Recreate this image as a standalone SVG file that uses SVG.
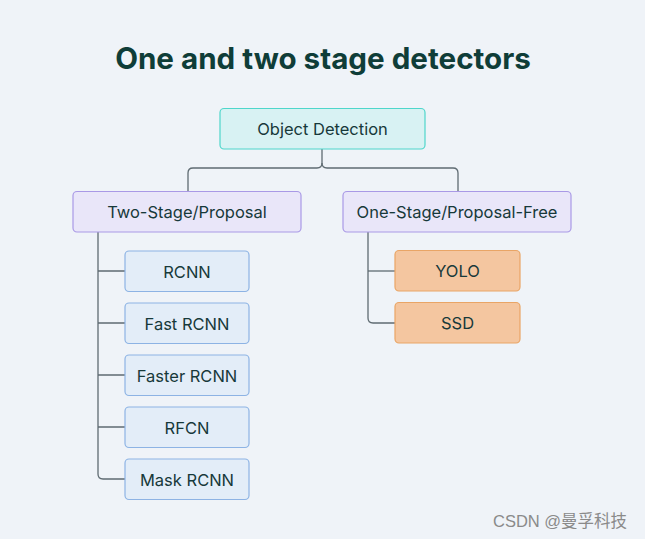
<svg xmlns="http://www.w3.org/2000/svg" width="645" height="539" viewBox="0 0 645 539">
<style>
text{font-family:Inter,"Noto Sans","Liberation Sans",sans-serif;fill:#17393a;text-anchor:middle;dominant-baseline:central;font-size:16.5px;font-weight:400}
.title{font-size:29.6px;font-weight:700;fill:#0f3d38;dominant-baseline:auto}
.root{fill:#d8f2f3;stroke:#4fd6cb;stroke-width:1.2}
.cat{fill:#e9e6f9;stroke:#a999e6;stroke-width:1.2}
.blue{fill:#e3edf8;stroke:#8db3e4;stroke-width:1.2}
.orange{fill:#f4c6a0;stroke:#e9a566;stroke-width:1.2}
.conn path{fill:none;stroke:#5f6b72;stroke-width:1.3}
.wm{font-family:"Liberation Sans","Noto Sans CJK SC",sans-serif;fill:#8a8a8a;font-size:16.5px;font-weight:400;text-anchor:start;dominant-baseline:auto}
</style>
<rect width="645" height="539" fill="#eff3f8"/>
<text class="title" x="323" y="69">One and two stage detectors</text>
<g class="conn" id="connectors">
<path d="M322 149 V163 Q322 168 317 168 H193 Q188 168 188 173 V191"/>
<path d="M322 163 Q322 168 327 168 H453 Q458 168 458 173 V191"/>
<path d="M98 232 V474 Q98 479 103 479 H125"/>
<path d="M98 271 H125 M98 323 H125 M98 375 H125 M98 427 H125"/>
<path d="M368 232 V318 Q368 323 373 323 H395"/>
<path d="M368 271 H395"/>
</g>
<g id="object-detection"><rect class="root" x="220" y="108.5" width="205" height="40.5" rx="4"/><text x="322.5" y="129">Object Detection</text></g>
<g id="two-stage"><rect class="cat" x="73" y="191.5" width="228" height="40.5" rx="4"/><text x="187" y="212">Two-Stage/Proposal</text></g>
<g id="one-stage"><rect class="cat" x="343" y="191.5" width="228" height="40.5" rx="4"/><text x="457" y="212">One-Stage/Proposal-Free</text></g>
<g id="rcnn"><rect class="blue" x="125" y="251" width="124" height="40.5" rx="4"/><text x="187" y="271.5">RCNN</text></g>
<g id="fast-rcnn"><rect class="blue" x="125" y="303" width="124" height="40.5" rx="4"/><text x="187" y="323.5">Fast RCNN</text></g>
<g id="faster-rcnn"><rect class="blue" x="125" y="355" width="124" height="40.5" rx="4"/><text x="187" y="375.5">Faster RCNN</text></g>
<g id="rfcn"><rect class="blue" x="125" y="407" width="124" height="40.5" rx="4"/><text x="187" y="427.5">RFCN</text></g>
<g id="mask-rcnn"><rect class="blue" x="125" y="459" width="124" height="40.5" rx="4"/><text x="187" y="479.5">Mask RCNN</text></g>
<g id="yolo"><rect class="orange" x="395" y="250.5" width="125" height="40.5" rx="4"/><text x="457.5" y="271">YOLO</text></g>
<g id="ssd"><rect class="orange" x="395" y="302.5" width="125" height="40.5" rx="4"/><text x="457.5" y="323">SSD</text></g>
<text class="wm" x="493" y="527">CSDN @曼孚科技</text>
</svg>
